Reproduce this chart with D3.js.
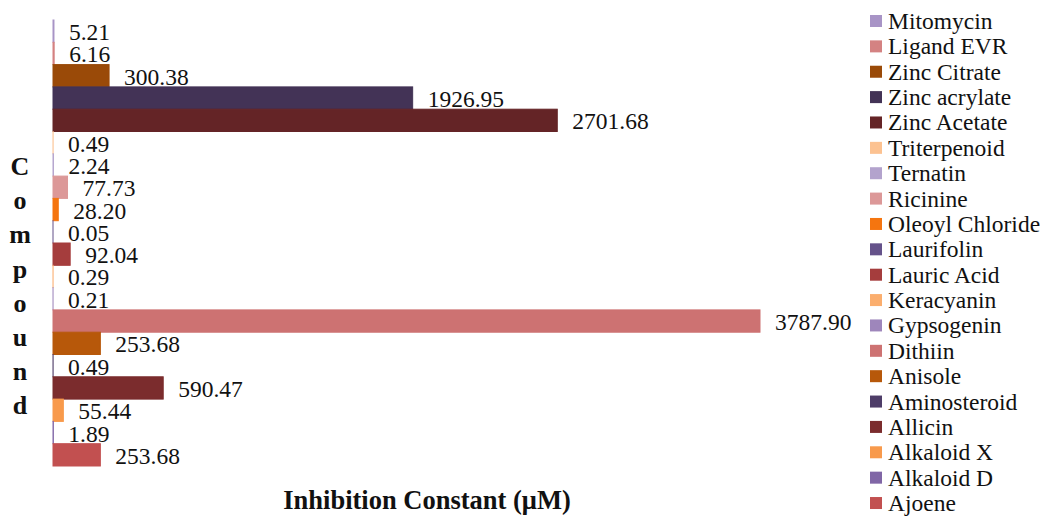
<!DOCTYPE html>
<html>
<head>
<meta charset="utf-8">
<script src="https://cdn.jsdelivr.net/npm/d3@7"></script>
<style>
  html, body { margin: 0; padding: 0; background: #fff; }
  svg { display: block; }
  svg text { font-family: "Liberation Serif", "Times New Roman", Times, "DejaVu Serif", serif; }
</style>
</head>
<body>
<svg id="chart" width="1045" height="516"></svg>
<script>
// Compounds, top to bottom
const compounds = [
  "Mitomycin", "Ligand EVR", "Zinc Citrate", "Zinc acrylate", "Zinc Acetate",
  "Triterpenoid", "Ternatin", "Ricinine", "Oleoyl Chloride", "Laurifolin",
  "Lauric Acid", "Keracyanin", "Gypsogenin", "Dithiin", "Anisole",
  "Aminosteroid", "Allicin", "Alkaloid X", "Alkaloid D", "Ajoene"
];

// Inhibition constant (µM) for each compound
const inhibition = [
  5.21, 6.16, 300.38, 1926.95, 2701.68,
  0.49, 2.24, 77.73, 28.20, 0.05,
  92.04, 0.29, 0.21, 3787.90, 253.68,
  0.49, 590.47, 55.44, 1.89, 253.68
];

// One colour per compound
const palette = [
  "#a894c6", "#d48282", "#9a4a08", "#433356", "#642426",
  "#fcc291", "#b3a3cd", "#dc9898", "#f5750f", "#65528a",
  "#a53d3d", "#fbae6e", "#9e86bb", "#cd7272", "#b7580a",
  "#4e3d68", "#7b2c2d", "#f89a4c", "#8066a6", "#c25050"
];

const yTitle = "Compound";
const xTitle = "Inhibition Constant (\u03bcM)";

const serif = "'Liberation Serif', 'Times New Roman', Times, 'DejaVu Serif', serif";

const rows = compounds.map((name, i) => ({ name, value: inhibition[i], color: palette[i] }));

const svg = d3.select("#chart");

const x = d3.scaleLinear()
  .domain([0, d3.max(inhibition)])
  .range([53, 760]);

const y = d3.scaleBand()
  .domain(compounds)
  .range([20, 466])
  .padding(0);

const color = d3.scaleOrdinal().domain(compounds).range(palette);

// Bars
svg.append("g")
  .selectAll("rect")
  .data(rows)
  .join("rect")
    .attr("x", x(0))
    .attr("y", d => y(d.name))
    .attr("width", d => x(d.value) - x(0))
    .attr("height", y.bandwidth())
    .attr("fill", d => color(d.name))
    .attr("stroke", d => color(d.name))
    .attr("stroke-width", 1);

// Value labels
svg.append("g")
  .selectAll("text")
  .data(rows)
  .join("text")
    .attr("x", d => x(d.value) + 15)
    .attr("y", d => y(d.name) + y.bandwidth() / 2 + 9)
    .attr("font-family", serif)
    .attr("font-size", 23.5)
    .attr("fill", "#111")
    .text(d => d.value.toFixed(2));

// Vertical axis title, one letter per line
svg.append("g")
  .selectAll("text")
  .data(yTitle.split(""))
  .join("text")
    .attr("x", 20)
    .attr("y", (c, i) => 175 + i * 34.2)
    .attr("text-anchor", "middle")
    .attr("font-family", serif)
    .attr("font-size", 26)
    .attr("font-weight", "bold")
    .attr("fill", "#111")
    .text(c => c);

// Horizontal axis title
svg.append("text")
  .attr("x", 427)
  .attr("y", 509)
  .attr("text-anchor", "middle")
  .attr("font-family", serif)
  .attr("font-size", 26.5)
  .attr("font-weight", "bold")
  .attr("fill", "#111")
  .text(xTitle);

// Legend
const legendStep = 25.37;
const legend = svg.append("g")
  .selectAll("g")
  .data(compounds)
  .join("g")
    .attr("transform", (d, i) => `translate(870, ${15 + i * legendStep})`);

legend.append("rect")
  .attr("width", 12)
  .attr("height", 12)
  .attr("fill", d => color(d));

legend.append("text")
  .attr("x", 18)
  .attr("y", 14)
  .attr("font-family", serif)
  .attr("font-size", 23.5)
  .attr("fill", "#111")
  .text(d => d);
</script>
</body>
</html>
